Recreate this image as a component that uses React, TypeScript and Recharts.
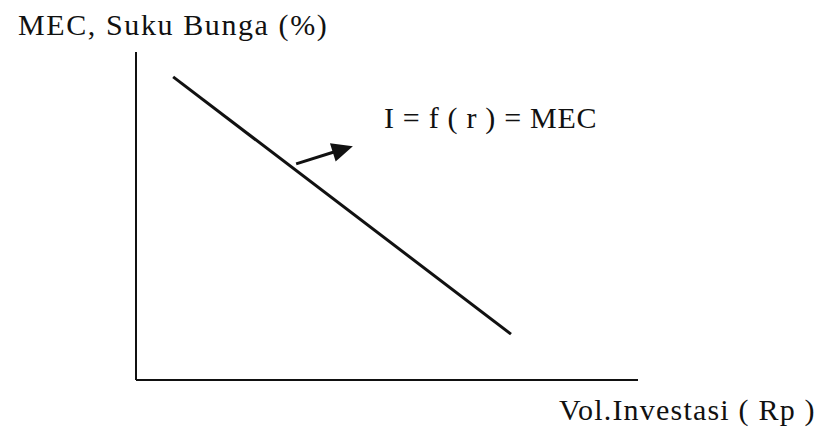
import { LineChart, Line, XAxis, YAxis, ReferenceLine, ReferenceDot } from "recharts";

// MEC curve end points (investment volume vs. interest rate, arbitrary 0-100 units)
const investment = [7.4, 74.7];
const rate = [92.4, 14.0];

// arrow pointing from the curve to its label
const arrowFrom = { inv: 31.9, rate: 65.9 };
const arrowTo = { inv: 43.2, rate: 71.3 };
const labelAt = { inv: 49.4, rate: 76.8 };

const titleText = "MEC, Suku Bunga (%)";
const xAxisText = "Vol.Investasi ( Rp )";
const curveText = "I = f ( r ) = MEC";

const ink = "#111";
const font = '"Liberation Serif", "Times New Roman", serif';

const mecData = investment.map((inv, i) => ({ inv, rate: rate[i] }));

const ArrowShape = (props: any) => {
  const { x1, y1, x2, y2 } = props;
  const dx = x2 - x1;
  const dy = y2 - y1;
  const len = Math.sqrt(dx * dx + dy * dy) || 1;
  const ux = dx / len;
  const uy = dy / len;
  const head = 21;
  const half = 9.5;
  const bx = x2 - ux * head;
  const by = y2 - uy * head;
  return (
    <g>
      <line x1={x1} y1={y1} x2={bx + ux * 2} y2={by + uy * 2} stroke={ink} strokeWidth={3} />
      <polygon
        points={`${x2},${y2} ${bx - uy * half},${by + ux * half} ${bx + uy * half},${by - ux * half}`}
        fill={ink}
      />
    </g>
  );
};

export default function App() {
  return (
    <div style={{ position: "absolute", left: 0, top: 0, width: 833, height: 430, background: "#fff" }}>
      <LineChart
        width={833}
        height={430}
        data={mecData}
        margin={{ top: 52, right: 195, bottom: 20, left: 106 }}
      >
        <XAxis
          dataKey="inv"
          type="number"
          domain={[0, 100]}
          height={30}
          tick={false}
          tickLine={false}
          axisLine={{ stroke: ink, strokeWidth: 2 }}
          label={{
            content: () => (
              <text x={559} y={420} fontFamily={font} fontSize={30} letterSpacing={1.2} fill={ink}>
                {xAxisText}
              </text>
            ),
          }}
        />
        <YAxis
          dataKey="rate"
          type="number"
          domain={[0, 100]}
          width={30}
          tick={false}
          tickLine={false}
          axisLine={{ stroke: ink, strokeWidth: 2 }}
          label={{
            content: () => (
              <text x={18} y={35} fontFamily={font} fontSize={30} letterSpacing={1.6} fill={ink}>
                {titleText}
              </text>
            ),
          }}
        />
        <Line
          dataKey="rate"
          stroke={ink}
          strokeWidth={3}
          dot={false}
          activeDot={false}
          isAnimationActive={false}
        />
        <ReferenceLine
          segment={[
            { x: arrowFrom.inv, y: arrowFrom.rate },
            { x: arrowTo.inv, y: arrowTo.rate },
          ]}
          shape={ArrowShape}
        />
        <ReferenceDot
          x={labelAt.inv}
          y={labelAt.rate}
          r={0}
          stroke="none"
          fill="none"
          label={{
            content: (p: any) => (
              <text x={p.viewBox.x} y={p.viewBox.y} fontFamily={font} fontSize={30} letterSpacing={0.7} fill={ink}>
                {curveText}
              </text>
            ),
          }}
        />
      </LineChart>
    </div>
  );
}
